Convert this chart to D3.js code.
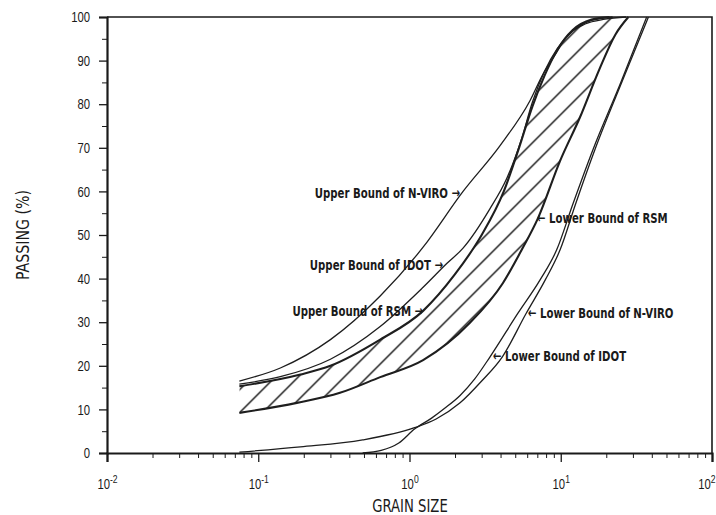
<!doctype html>
<html lang="en">
<head>
<meta charset="utf-8">
<style>
html, body {
    margin: 0;
    padding: 0;
    background: #fff;
    overflow: hidden;
}
svg {
    display: block;
    font-family: "DejaVu Sans Condensed", "Liberation Sans Narrow", sans-serif;
}
.axis path, .axis line {
    stroke: #1a1a1a;
}
.axis text {
    fill: #1a1a1a;
    font-size: 14.5px;
}
.curve {
    fill: none;
    stroke: #1e1e1e;
    stroke-width: 1.3;
}
.curve.rsm {
    stroke-width: 2.1;
}
.note {
    font-size: 14.5px;
    font-weight: bold;
    fill: #1a1a1a;
}
.title {
    font-size: 17.5px;
    fill: #1a1a1a;
}
</style>
</head>
<body>
<svg id="chart" width="716" height="515"></svg>
<script src="https://cdn.jsdelivr.net/npm/d3@7"></script>
<script>
// grain size (mm), passing (%)
const upperNViro = [[0.075,16.5],[0.14,19.5],[0.3,26],[0.64,36],[1.23,47.2],[2.26,60],[3.97,70.5],[6.26,80.8],[7.64,86.9],[9.17,91.3],[11,95.6],[14.5,98.4],[19.6,99.5],[27,100]];
const upperIdot  = [[0.075,15.8],[0.14,17.5],[0.3,21.5],[0.64,29],[1.23,38],[1.77,43.5],[2.26,47],[3.4,56],[4.4,63],[5.5,72],[6.5,80.5],[7.8,87.5],[9.5,92.8],[12,96.8],[16,99.2],[22,100]];
const upperRsm   = [[0.075,15.3],[0.19,18],[0.3,20],[0.64,26],[1.23,32.6],[2.0,41],[3.0,50],[4.2,60],[5.3,70],[6.5,79.5],[7.8,86.5],[9.5,92.5],[12,97],[16,99.4],[21,100]];
const lowerRsm   = [[0.075,9.2],[0.18,11.5],[0.347,13.8],[0.64,17.4],[1.23,21.3],[2.5,29.8],[4.15,39],[5.5,46.5],[7.1,54],[9.9,67],[13.4,77],[18,88],[23,96],[28,100]];
const lowerIdot  = [[0.49,0],[0.65,0.6],[0.85,2.3],[1.08,5.5],[1.4,8],[1.7,10.2],[2.16,13.2],[2.7,17],[3.4,22],[5.2,32],[7.3,39.7],[9.4,46.6],[12,57],[16.3,69.5],[24.9,84.9],[37,100]];
const lowerNViro = [[0.075,0.2],[0.19,1.4],[0.49,3],[1.08,5.8],[1.5,7.8],[2.16,11.5],[3.0,16.5],[4.1,22],[5.9,32],[7.9,39.7],[9.9,46.6],[12.5,57],[17,70],[26,86],[38,100]];

const curveNames = ['upperNViro', 'upperIdot', 'upperRsm', 'lowerRsm', 'lowerIdot', 'lowerNViro'];
const curveData = [upperNViro, upperIdot, upperRsm, lowerRsm, lowerIdot, lowerNViro];

const noteTexts  = ['Upper Bound of N-VIRO \u2192', 'Upper Bound of IDOT \u2192', 'Upper Bound of RSM \u2192',
                    '\u2190 Lower Bound of RSM', '\u2190 Lower Bound of N-VIRO', '\u2190 Lower Bound of IDOT'];
const noteAt     = [[2.16,59.6],[1.665,43.1],[1.23,32.6],[6.97,53.9],[6.07,32.1],[3.56,22.2]];

const yMajor = d3.range(0, 101, 10);
const yMinor = d3.range(5, 100, 10);
const xMajor = [0.01, 0.1, 1, 10, 100];
const xLabels = ['-2', '-1', '0', '1', '2'];

const svg = d3.select('#chart');
const pLeft = 107, pRight = 712, pTop = 17, pBottom = 453;
const squeeze = 0.78;   // the scan uses a condensed lettering

const x = d3.scaleLog().domain([0.01, 100]).range([pLeft, pRight]);
const y = d3.scaleLinear().domain([0, 100]).range([pBottom, pTop]);

const xMinor = [];
xMajor.slice(0, -1).forEach(d => { for (let k = 2; k < 10; ++k) xMinor.push(d * k); });

// frame
svg.append('path')
    .attr('d', `M${pLeft},${pTop}H${pRight}V${pBottom}`)
    .attr('fill', 'none').attr('stroke', '#1a1a1a').attr('stroke-width', 1.6);

const line = d3.line().x(d => x(d[0])).y(d => y(d[1])).curve(d3.curveMonotoneX);

// hatch for the RSM band
const defs = svg.append('defs');
const hatch = defs.append('pattern')
    .attr('id', 'hatch').attr('patternUnits', 'userSpaceOnUse')
    .attr('width', 23).attr('height', 23)
    .attr('x', x(0.075)).attr('y', y(9.2));
hatch.append('path')
    .attr('d', 'M-2,2 L2,-2 M0,23 L23,0 M21,25 L25,21')
    .attr('stroke', '#1a1a1a').attr('stroke-width', 1.45);

defs.append('clipPath').attr('id', 'belowUpper').append('path')
    .attr('d', line(upperRsm) + `L${pRight},${pTop}L${pRight},${pBottom}L${x(upperRsm[0][0])},${pBottom}Z`);
defs.append('clipPath').attr('id', 'aboveLower').append('path')
    .attr('d', line(lowerRsm) + `L${x(lowerRsm[0][0])},${pTop}Z`);

svg.append('g').attr('clip-path', 'url(#belowUpper)')
    .append('g').attr('clip-path', 'url(#aboveLower)')
    .append('rect')
    .attr('x', pLeft).attr('y', pTop).attr('width', pRight - pLeft).attr('height', pBottom - pTop)
    .attr('fill', 'url(#hatch)');

svg.append('g').selectAll('path')
    .data(curveData)
    .join('path')
    .attr('class', (d, i) => 'curve' + (curveNames[i].endsWith('Rsm') ? ' rsm' : ''))
    .attr('d', line);

// axes
const yAxis = svg.append('g').attr('class', 'axis').attr('transform', `translate(${pLeft},0)`)
    .call(d3.axisLeft(y).tickValues(yMajor).tickSize(8).tickPadding(9).tickFormat(d3.format('d')));
svg.append('g').attr('class', 'axis').attr('transform', `translate(${pLeft},0)`)
    .call(d3.axisLeft(y).tickValues(yMinor).tickSize(5).tickFormat(''))
    .select('.domain').remove();
yAxis.select('.domain').attr('stroke-width', 2.2);
yAxis.selectAll('.tick line').attr('stroke-width', 1.3);
yAxis.selectAll('.tick text')
    .attr('transform', `scale(${squeeze},1)`)
    .attr('x', -17 / squeeze);

const xAxis = svg.append('g').attr('class', 'axis').attr('transform', `translate(0,${pBottom})`)
    .call(d3.axisBottom(x).tickValues(xMajor).tickSize(9).tickPadding(17).tickFormat(''));
svg.append('g').attr('class', 'axis').attr('transform', `translate(0,${pBottom})`)
    .call(d3.axisBottom(x).tickValues(xMinor).tickSize(5).tickFormat(''))
    .select('.domain').remove();
xAxis.select('.domain').attr('stroke-width', 2.2);
xAxis.selectAll('.tick line').attr('stroke-width', 1.3);

xAxis.selectAll('.tick text')
    .attr('dy', '0.71em')
    .attr('transform', `scale(${squeeze},1)`)
    .each(function(d, i) {
        const t = d3.select(this);
        t.append('tspan').text('10');
        t.append('tspan').attr('dy', '-0.55em').attr('font-size', '11px').text(xLabels[i]);
        if (i === xLabels.length - 1) {
            // keep the last label inside the picture
            t.attr('text-anchor', 'end').attr('x', (715 - x(d)) / squeeze);
        }
    });

// axis titles
svg.append('text')
    .attr('class', 'title')
    .attr('transform', `translate(410,512) scale(0.84,1)`)
    .attr('text-anchor', 'middle')
    .text('GRAIN SIZE');
svg.append('text')
    .attr('class', 'title')
    .attr('transform', 'translate(29,235) rotate(-90) scale(0.9,1)')
    .attr('text-anchor', 'middle')
    .text('PASSING (%)');

// notes
svg.append('g').selectAll('text')
    .data(noteTexts)
    .join('text')
    .attr('class', 'note')
    .attr('transform', (d, i) => `translate(${x(noteAt[i][0])},${y(noteAt[i][1])}) scale(${squeeze},1)`)
    .attr('dy', '0.36em')
    .attr('text-anchor', (d, i) => i < 3 ? 'end' : 'start')
    .text(d => d);
</script>
</body>
</html>
